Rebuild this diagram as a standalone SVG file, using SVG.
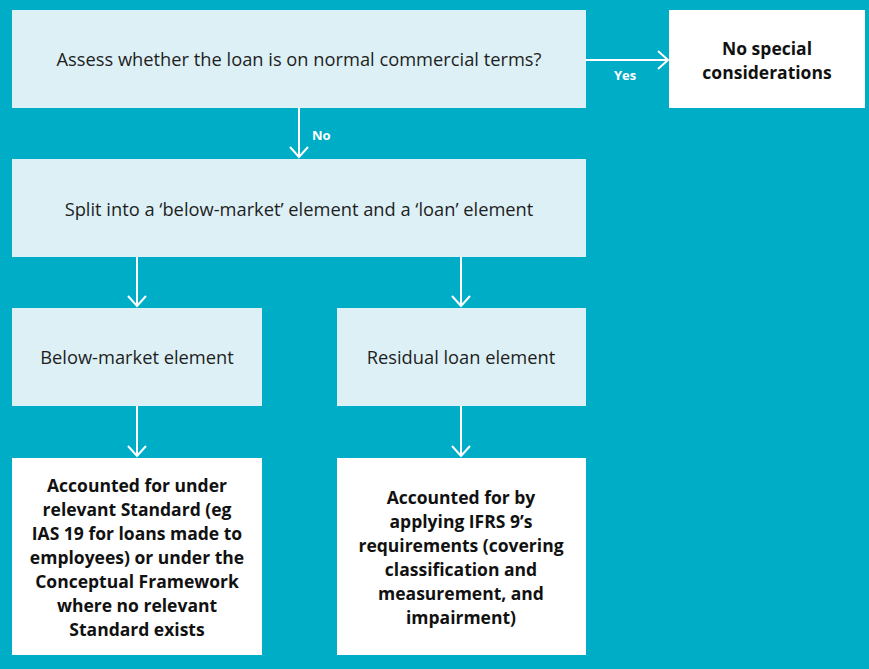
<svg xmlns="http://www.w3.org/2000/svg" width="869" height="669" viewBox="0 0 869 669">
<style>
.light{fill:#dcf0f6}
.white{fill:#ffffff}
.t{font-family:"Open Sans","Liberation Sans",sans-serif;font-size:18.3px;fill:#1e1e1e;text-anchor:middle}
.b{font-family:"Open Sans","Liberation Sans",sans-serif;font-size:17.5px;font-weight:bold;fill:#111;text-anchor:middle}
.lbl{font-family:"Open Sans","Liberation Sans",sans-serif;font-size:13px;font-weight:bold;fill:#ffffff}
.c{stroke:#ffffff;stroke-width:2;fill:none}
</style>
<defs>
<marker id="ah" viewBox="0 0 20 20" refX="18" refY="10" markerWidth="20" markerHeight="20" markerUnits="userSpaceOnUse" orient="auto">
<path d="M8,1 L18,10 L8,19" fill="none" stroke="#ffffff" stroke-width="2"/>
</marker>
</defs>
<rect x="0" y="0" width="869" height="669" fill="#00adc7"/>
<g id="connectors">
<line class="c" x1="586" y1="60" x2="668" y2="60" marker-end="url(#ah)"/>
<text class="lbl" x="614" y="80">Yes</text>
<line class="c" x1="299" y1="108" x2="299" y2="157" marker-end="url(#ah)"/>
<text class="lbl" x="312" y="140">No</text>
<line class="c" x1="137" y1="257" x2="137" y2="306" marker-end="url(#ah)"/>
<line class="c" x1="461" y1="257" x2="461" y2="306" marker-end="url(#ah)"/>
<line class="c" x1="137" y1="406" x2="137" y2="456" marker-end="url(#ah)"/>
<line class="c" x1="461" y1="406" x2="461" y2="456" marker-end="url(#ah)"/>
</g>
<g id="assess">
<rect class="light" x="12" y="10" width="574" height="98"/>
<text class="t" x="299" y="66">Assess whether the loan is on normal commercial terms?</text>
</g>
<g id="nospecial">
<rect class="white" x="669" y="10" width="196" height="98"/>
<text class="b" x="767" y="55">No special</text>
<text class="b" x="767" y="79">considerations</text>
</g>
<g id="split">
<rect class="light" x="12" y="159" width="574" height="98"/>
<text class="t" x="299" y="216">Split into a ‘below-market’ element and a ‘loan’ element</text>
</g>
<g id="belowmarket">
<rect class="light" x="12" y="308" width="250" height="98"/>
<text class="t" x="137" y="364">Below-market element</text>
</g>
<g id="residual">
<rect class="light" x="337" y="308" width="249" height="98"/>
<text class="t" x="461" y="364">Residual loan element</text>
</g>
<g id="accounted-standard">
<rect class="white" x="12" y="458" width="250" height="197"/>
<text class="b" x="137" y="492">Accounted for under</text>
<text class="b" x="137" y="516">relevant Standard (eg</text>
<text class="b" x="137" y="540">IAS 19 for loans made to</text>
<text class="b" x="137" y="564">employees) or under the</text>
<text class="b" x="137" y="588">Conceptual Framework</text>
<text class="b" x="137" y="612">where no relevant</text>
<text class="b" x="137" y="636">Standard exists</text>
</g>
<g id="accounted-ifrs9">
<rect class="white" x="337" y="458" width="249" height="197"/>
<text class="b" x="461" y="504">Accounted for by</text>
<text class="b" x="461" y="528">applying IFRS 9’s</text>
<text class="b" x="461" y="552">requirements (covering</text>
<text class="b" x="461" y="576">classification and</text>
<text class="b" x="461" y="600">measurement, and</text>
<text class="b" x="461" y="624">impairment)</text>
</g>
</svg>
